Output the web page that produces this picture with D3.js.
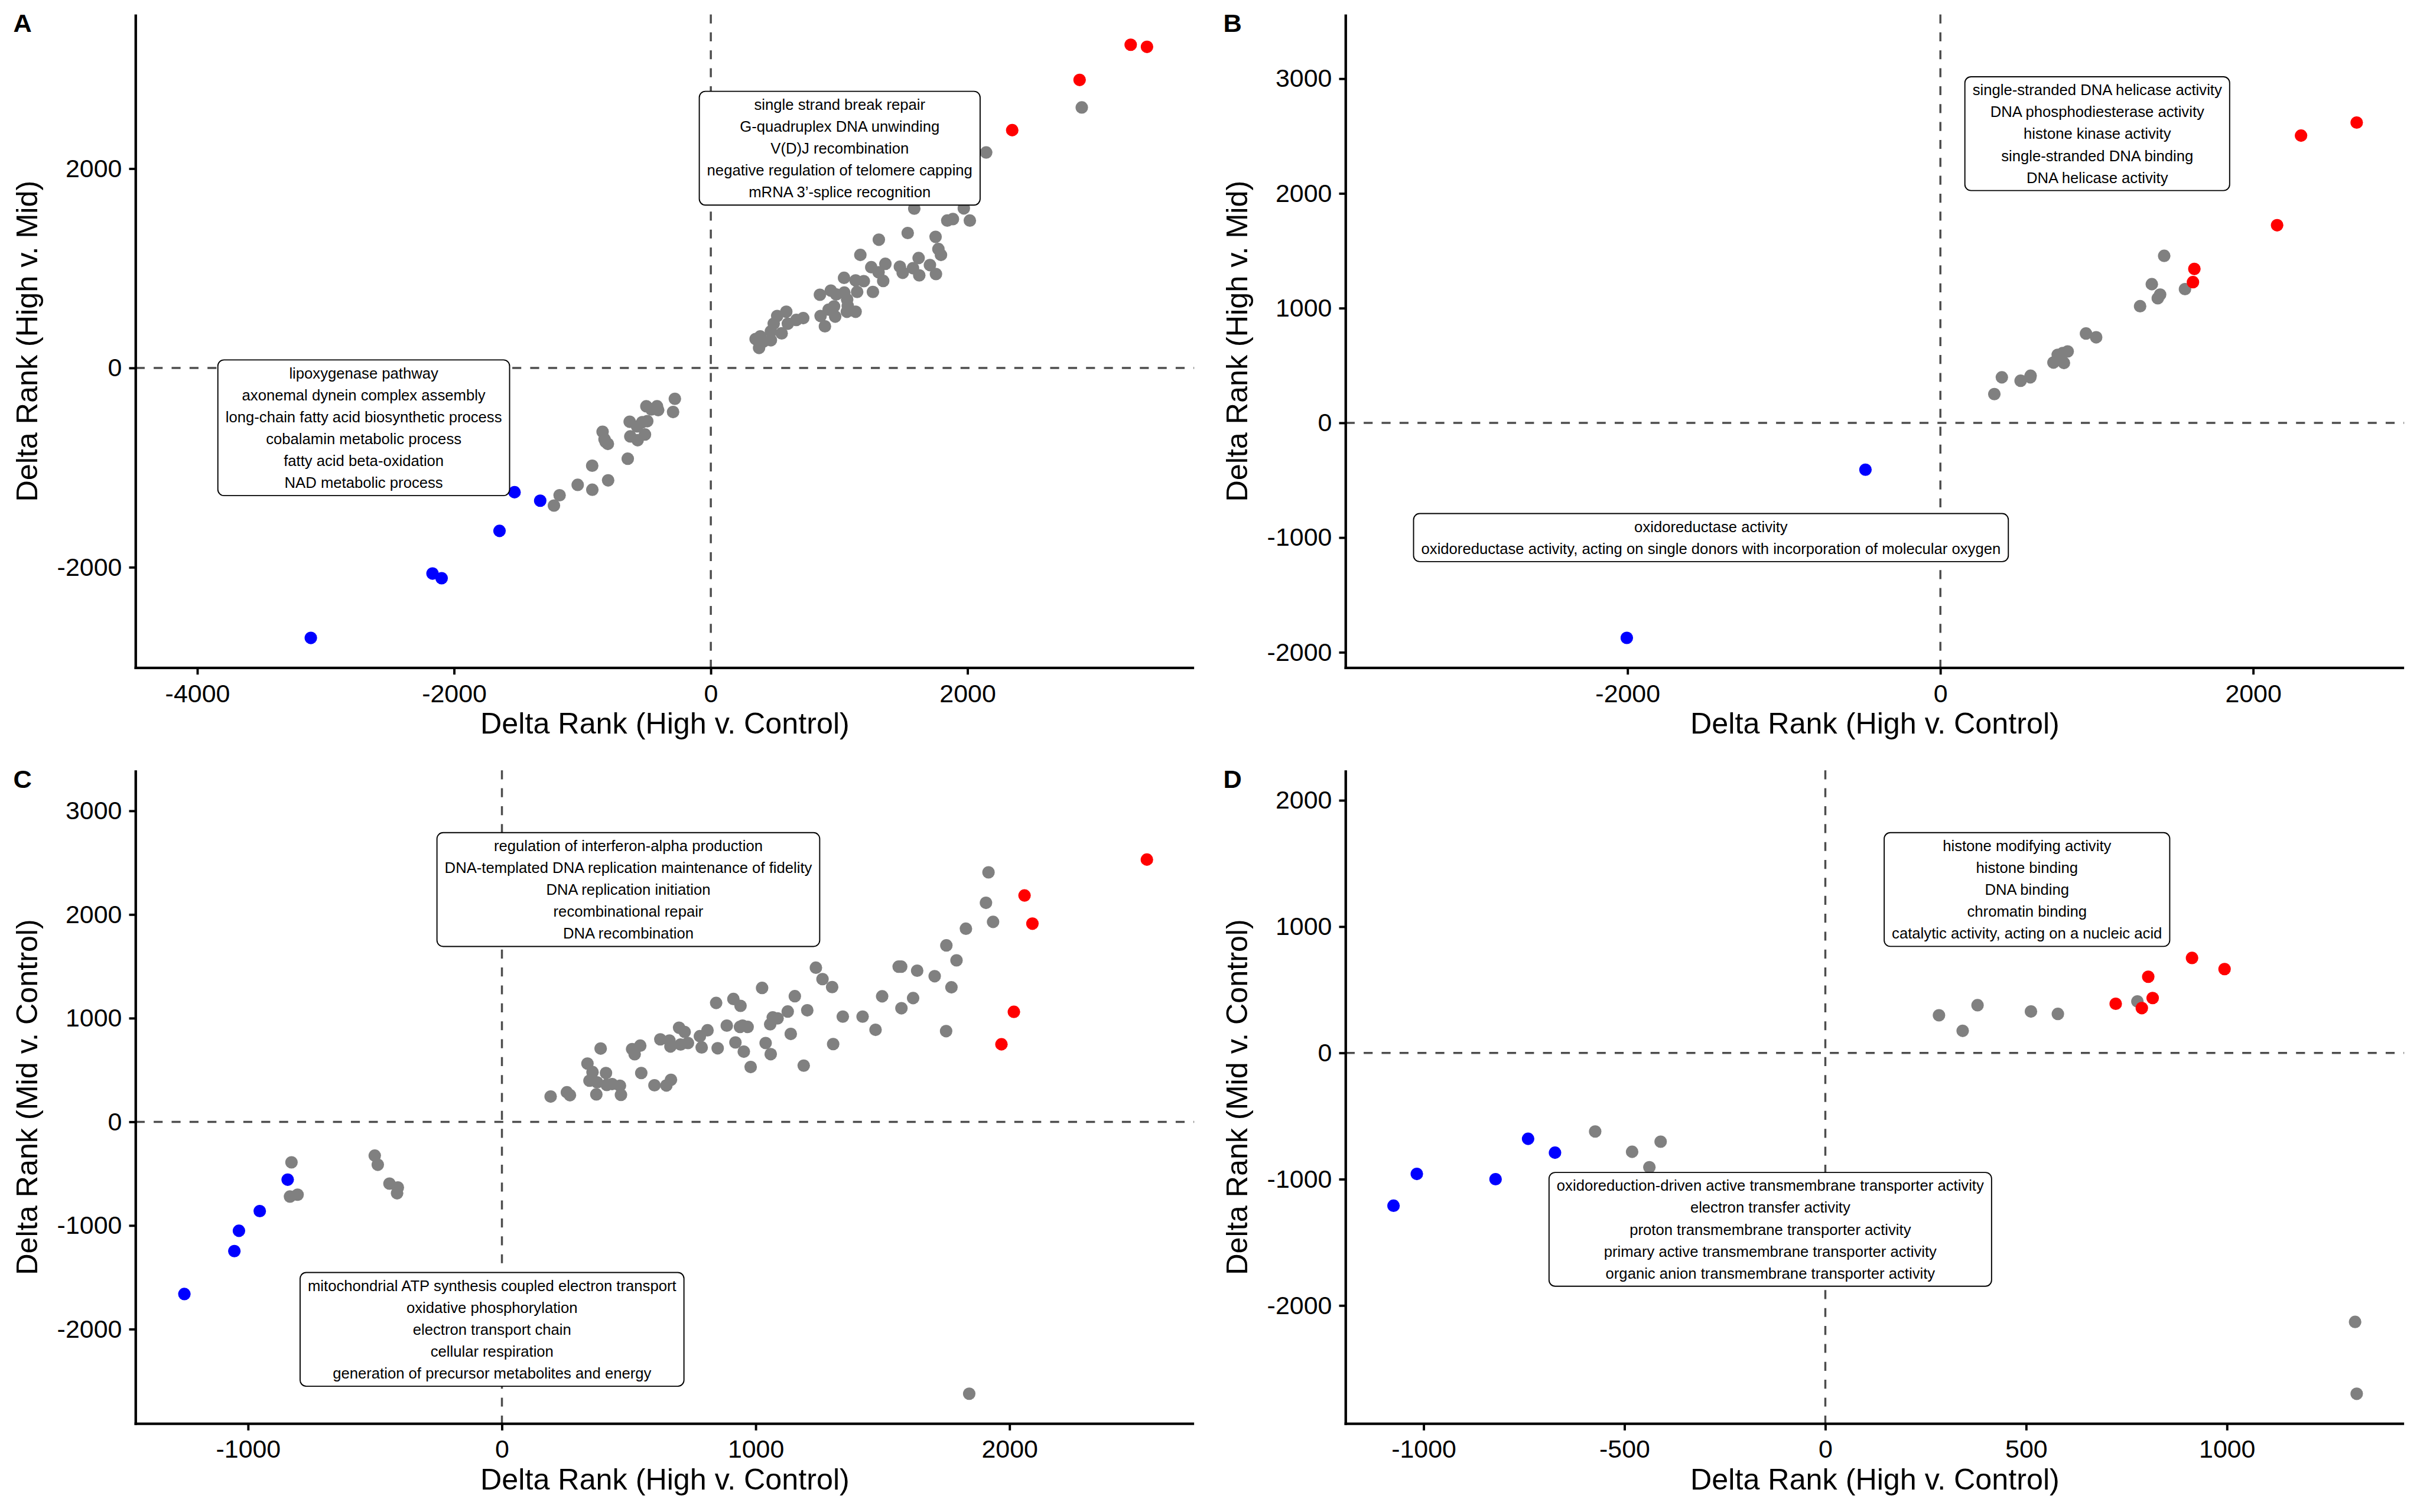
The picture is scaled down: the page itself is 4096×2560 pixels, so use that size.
<!DOCTYPE html>
<html><head><meta charset="utf-8">
<script src="https://cdn.jsdelivr.net/npm/d3@7"></script>
<style>html,body{margin:0;padding:0;background:#fff;}svg{display:block;}</style>
</head><body>
<script>
// ---------------- DATA ----------------
const aGrey = [[2890,2614],[2145,2162],[1585,1599],[1971,1601],[1842,1479],[1886,1494],[2018,1479],[1534,1354],[1309,1287],[1751,1315],[1773,1193],[1793,1134],[1165,1134],[1619,1103],[1707,1032],[1250,1011],[1360,1045],[1307,960],[1473,1016],[1495,955],[1575,1001],[1624,929],[1754,942],[1343,873],[1038,904],[1128,878],[1192,871],[1140,763],[1263,763],[850,735],[935,776],[977,738],[1040,756],[1062,687],[1067,623],[1060,564],[1128,564],[960,618],[918,585],[969,515],[855,521],[889,418],[588,564],[517,521],[490,444],[600,444],[666,482],[720,500],[552,347],[468,367],[468,278],[349,290],[385,316],[410,265],[376,201],
  [-1178,-1277],[-1222,-1381],[-1037,-1173],[-923,-1222],[-924,-981],[-800,-1128],[-647,-911],[-843,-640],[-828,-715],[-802,-762],[-819,-742],[-632,-540],[-627,-687],[-570,-725],[-574,-587],[-513,-668],[-495,-534],[-502,-385],[-419,-385],[-410,-423],[-463,-416],[-280,-310],[-294,-442],[-534,-544]];
const aRed = [[3271,3243],[3398,3222],[2873,2890],[2348,2386]];
const aBlue = [[-1529,-1247],[-1329,-1332],[-1646,-1635],[-2168,-2063],[-2097,-2110],[-3116,-2709]];

const bGrey = [[1431,1456],[1352,1209],[1405,1118],[1390,1086],[1564,1166],[1277,1017],[931,779],[996,746],[814,623],[782,608],[750,593],[723,526],[790,522],[577,411],[575,397],[513,367],[393,397],[345,251]];
const bRed = [[2662,2618],[2306,2504],[2153,1723],[1624,1342],[1615,1227]];
const bBlue = [[-479,-408],[-2005,-1874]];

const cGrey = [[192,244],[256,285],[268,257],[372,265],[469,260],[337,562],[357,480],[345,397],[375,381],[410,471],[413,356],[434,364],[465,348],[389,707],[513,702],[545,735],[523,652],[549,471],[601,353],[648,351],[666,405],[624,796],[660,784],[664,727],[698,908],[720,867],[704,746],[733,760],[780,826],[810,883],[787,718],[844,1147],[912,1185],[940,1119],[886,928],[938,916],[948,928],[968,916],[850,710],[920,766],[953,677],[980,529],[1025,1292],[1057,941],[1067,1007],[1086,998],[1039,760],[1059,653],[1126,1064],[1154,1212],[1203,1076],[1138,848],[1189,542],[1237,1487],[1263,1377],[1301,1300],[1343,1015],[1305,750],
  [1917,2407],[1907,2113],[1935,1929],[1828,1863],[1751,1702],[1791,1558],[1563,1497],[1573,1497],[1636,1458],[1705,1405],[1771,1298],[1498,1211],[1620,1194],[1574,1096],[1421,1015],[1472,888],[1750,875],
  [-829,-391],[-835,-721],[-805,-703],[-501,-326],[-489,-414],[-443,-596],[-410,-633],[-413,-689],[1841,-2623]];
const cRed = [[2541,2530],[2059,2184],[2090,1912],[2017,1061],[1968,748]];
const cBlue = [[-1251,-1661],[-1054,-1247],[-1036,-1051],[-954,-861],[-844,-558]];

const dGrey = [[777,408],[283,298],[342,175],[379,378],[512,328],[579,309],[1319,-2130],[1323,-2699],[-573,-622],[-481,-783],[-410,-703],[-438,-905]];
const dRed = [[913,752],[994,664],[804,603],[815,435],[723,389],[788,355]];
const dBlue = [[-1075,-1210],[-1017,-958],[-821,-1000],[-740,-680],[-673,-790]];

const aTicksX = [-4000,-2000,0,2000], aTicksY = [-2000,0,2000];
const bTicksX = [-2000,0,2000], bTicksY = [-2000,-1000,0,1000,2000,3000];
const cTicksX = [-1000,0,1000,2000], cTicksY = [-2000,-1000,0,1000,2000,3000];
const dTicksX = [-1000,-500,0,500,1000], dTicksY = [-2000,-1000,0,1000,2000];

const aLabelTop = ["single strand break repair","G-quadruplex DNA unwinding","V(D)J recombination","negative regulation of telomere capping","mRNA 3\u2019-splice recognition"];
const aLabelBottom = ["lipoxygenase pathway","axonemal dynein complex assembly","long-chain fatty acid biosynthetic process","cobalamin metabolic process","fatty acid beta-oxidation","NAD metabolic process"];
const bLabelTop = ["single-stranded DNA helicase activity","DNA phosphodiesterase activity","histone kinase activity","single-stranded DNA binding","DNA helicase activity"];
const bLabelBottom = ["oxidoreductase activity","oxidoreductase activity, acting on single donors with incorporation of molecular oxygen"];
const cLabelTop = ["regulation of interferon-alpha production","DNA-templated DNA replication maintenance of fidelity","DNA replication initiation","recombinational repair","DNA recombination"];
const cLabelBottom = ["mitochondrial ATP synthesis coupled electron transport","oxidative phosphorylation","electron transport chain","cellular respiration","generation of precursor metabolites and energy"];
const dLabelTop = ["histone modifying activity","histone binding","DNA binding","chromatin binding","catalytic activity, acting on a nucleic acid"];
const dLabelBottom = ["oxidoreduction-driven active transmembrane transporter activity","electron transfer activity","proton transmembrane transporter activity","primary active transmembrane transporter activity","organic anion transmembrane transporter activity"];

const xTitle = "Delta Rank (High v. Control)";
const yTitleTop = "Delta Rank (High v. Mid)";
const yTitleBottom = "Delta Rank (Mid v. Control)";

// ---------------- LAYOUT ----------------
const W = 4724, H = 2952;
const FONT = "'Liberation Sans', Arial, Helvetica, sans-serif";
const COL = {grey:"#808080", red:"#FF0000", blue:"#0000FF"};

const panels = [
  {ox:0, oy:0, tag:"A", ytitle:yTitleTop, xd:[-4480,3765], yd:[-3010,3547], xt:aTicksX, yt:aTicksY,
   grey:aGrey, red:aRed, blue:aBlue, labels:[{c:[1004,2205],t:aLabelTop},{c:[-2704,-600],t:aLabelBottom}]},
  {ox:2362, oy:0, tag:"B", ytitle:yTitleTop, xd:[-3802,2965], yd:[-2136,3560], xt:bTicksX, yt:bTicksY,
   grey:bGrey, red:bRed, blue:bBlue, labels:[{c:[1003,2521],t:bLabelTop},{c:[-1467,-1000],t:bLabelBottom}]},
  {ox:0, oy:1476, tag:"C", ytitle:yTitleBottom, xd:[-1442.6,2727], yd:[-2913,3391], xt:cTicksX, yt:cTicksY,
   grey:cGrey, red:cRed, blue:cBlue, labels:[{c:[498,2241],t:cLabelTop},{c:[-39,-2002],t:cLabelBottom}]},
  {ox:2362, oy:1476, tag:"D", ytitle:yTitleBottom, xd:[-1194,1441], yd:[-2936.7,2237.6], xt:dTicksX, yt:dTicksY,
   grey:dGrey, red:dRed, blue:dBlue, labels:[{c:[502,1294],t:dLabelTop},{c:[-137,-1397],t:dLabelBottom}]}
];

const L = 265, R = 2331, T = 28, B = 1304;

const svg = d3.select("body").append("svg")
  .attr("width", 4096).attr("height", 2560)
  .attr("viewBox", `0 0 ${W} ${H}`)
  .style("font-family", FONT);
svg.append("rect").attr("width", W).attr("height", H).attr("fill", "#fff");

panels.forEach(p => {
  const g = svg.append("g").attr("transform", `translate(${p.ox},${p.oy})`);
  const x = d3.scaleLinear().domain(p.xd).range([L, R]);
  const y = d3.scaleLinear().domain(p.yd).range([B, T]);

  // reference lines
  g.append("line").attr("x1", L).attr("x2", R).attr("y1", y(0)).attr("y2", y(0))
    .attr("stroke", "#4d4d4d").attr("stroke-width", 4).attr("stroke-dasharray", "17.5,17.5");
  g.append("line").attr("x1", x(0)).attr("x2", x(0)).attr("y1", T).attr("y2", B)
    .attr("stroke", "#4d4d4d").attr("stroke-width", 4).attr("stroke-dasharray", "17.5,17.5");

  // points
  const pts = [];
  p.grey.forEach(d => pts.push({x:d[0], y:d[1], c:COL.grey}));
  p.red.forEach(d => pts.push({x:d[0], y:d[1], c:COL.red}));
  p.blue.forEach(d => pts.push({x:d[0], y:d[1], c:COL.blue}));
  g.selectAll("circle.pt").data(pts).enter().append("circle")
    .attr("cx", d => x(d.x)).attr("cy", d => y(d.y)).attr("r", 12.2).attr("fill", d => d.c);

  // axes
  const fmt = d => String(d);
  const xAxis = g.append("g").attr("transform", `translate(0,${B})`)
    .call(d3.axisBottom(x).tickValues(p.xt).tickFormat(fmt).tickSize(13).tickPadding(18));
  const yAxis = g.append("g").attr("transform", `translate(${L},0)`)
    .call(d3.axisLeft(y).tickValues(p.yt).tickFormat(fmt).tickSize(13).tickPadding(14));
  [xAxis, yAxis].forEach(a => {
    a.select(".domain").remove();
    a.selectAll(".tick line").attr("stroke", "#000").attr("stroke-width", 4.5);
    a.selectAll(".tick text").attr("fill", "#000").style("font-size", "49.5px").style("font-family", FONT);
  });
  xAxis.selectAll(".tick text").attr("dy", null).attr("y", 13 + 18 + 35.5);
  // axis lines
  g.append("line").attr("x1", L - 2.5).attr("x2", R).attr("y1", B).attr("y2", B)
    .attr("stroke", "#000").attr("stroke-width", 5);
  g.append("line").attr("x1", L).attr("x2", L).attr("y1", T).attr("y2", B + 2.5)
    .attr("stroke", "#000").attr("stroke-width", 5);

  // axis titles
  g.append("text").attr("x", (L + R) / 2).attr("y", 1432).attr("text-anchor", "middle")
    .style("font-size", "58px").attr("fill", "#000").text(xTitle);
  g.append("text").attr("transform", `translate(73,${(T + B) / 2}) rotate(-90)`).attr("text-anchor", "middle")
    .style("font-size", "58px").attr("fill", "#000").text(p.ytitle);

  // panel tag
  g.append("text").attr("x", 26).attr("y", 62).style("font-size", "50px").style("font-weight", "bold")
    .attr("fill", "#000").text(p.tag);

  // labels
  const LH = 42.8, FS = 29.6;
  p.labels.forEach(lb => {
    const cx = x(lb.c[0]), cy = y(lb.c[1]);
    const n = lb.t.length;
    const h = (n - 1) * LH + 51;
    const top = cy - h / 2;
    const lg = g.append("g");
    const rect = lg.append("rect");
    const txt = lg.append("text").attr("text-anchor", "middle").style("font-size", FS + "px").attr("fill", "#000");
    lb.t.forEach((s, i) => txt.append("tspan").attr("x", cx).attr("y", top + 36 + i * LH).text(s));
    let maxW = 0;
    txt.selectAll("tspan").each(function(){ maxW = Math.max(maxW, this.getComputedTextLength()); });
    const w = maxW + 30;
    rect.attr("x", cx - w / 2).attr("y", top).attr("width", w).attr("height", h)
      .attr("rx", 12).attr("ry", 12).attr("fill", "#fff").attr("stroke", "#000").attr("stroke-width", 2.2);
  });
});
</script>
</body></html>
